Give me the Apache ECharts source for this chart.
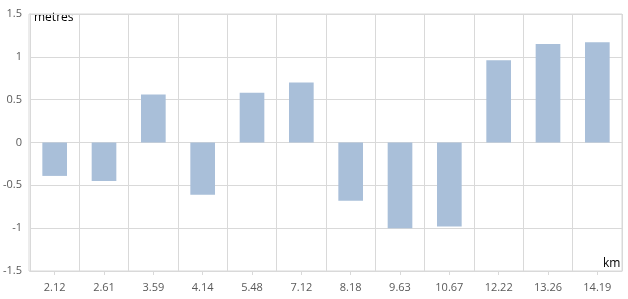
<!DOCTYPE html>
<html><head><meta charset="utf-8">
<script src="https://cdn.jsdelivr.net/npm/echarts@6/dist/echarts.min.js"></script>
<style>html,body{margin:0;padding:0;background:#fff}#c{width:628px;height:299px}</style>
</head><body><div id="c"></div>
<script>
const categories = ['2.12','2.61','3.59','4.14','5.48','7.12','8.18','9.63','10.67','12.22','13.26','14.19'];
const values = [-0.39,-0.45,0.56,-0.61,0.58,0.70,-0.68,-1.00,-0.98,0.96,1.15,1.17];
const yMin = -1.5, yMax = 1.5, yStep = 0.5;
const yName = 'metres', xName = 'km';

const chart = echarts.init(document.getElementById('c'), null, {renderer:'canvas'});
const font = '"Open Sans", "Liberation Sans", "DejaVu Sans", sans-serif';
chart.setOption({
  animation:false,
  grid:{left:29,right:6,top:14,bottom:28,containLabel:false},
  xAxis:[{
    type:'category', data:categories, position:'bottom',
    axisLine:{show:false}, axisTick:{show:false},
    axisLabel:{color:'#595959',fontSize:11,fontFamily:font,margin:11},
    splitLine:{show:true,lineStyle:{color:'#d9d9d9',width:1}}
  },{
    type:'category', data:categories, position:'bottom', offset:0,
    axisLine:{show:true,onZero:true,lineStyle:{color:'#d9d9d9',width:1}},
    axisTick:{show:true,alignWithLabel:true,length:4,lineStyle:{color:'#d9d9d9'}},
    axisLabel:{show:false}, splitLine:{show:false}
  }],
  yAxis:{
    type:'value', min:yMin, max:yMax, interval:yStep,
    axisLine:{show:true,lineStyle:{color:'#d9d9d9'}},
    axisTick:{show:false},
    axisLabel:{color:'#595959',fontSize:11,fontFamily:font,margin:8},
    splitLine:{show:true,lineStyle:{color:'#d9d9d9',width:1}}
  },
  graphic:[
    {type:'rect',shape:{x:29,y:14,width:593,height:257},style:{fill:'none',stroke:'#d9d9d9',lineWidth:1},silent:true,z:0},
    {type:'text',left:34,top:12,style:{text:yName,fill:'#000',font:'12px '+font}},
    {type:'text',left:603,top:258,style:{text:xName,fill:'#000',font:'12px '+font}}
  ],
  series:[{
    type:'bar', data:values, xAxisIndex:0, barWidth:'50%',
    itemStyle:{color:'#a9bfd9'}
  }]
});
</script></body></html>
